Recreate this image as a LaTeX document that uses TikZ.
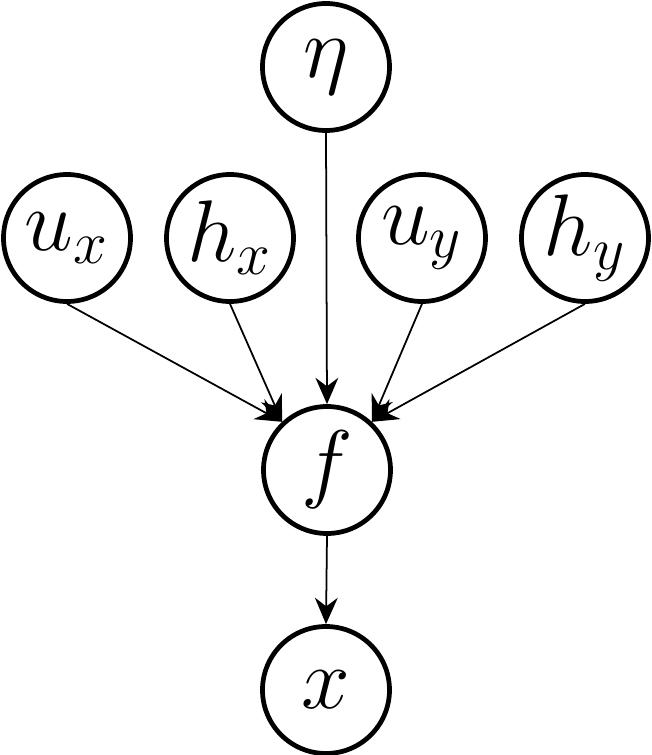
\documentclass[tikz,border=0pt]{standalone}
\usetikzlibrary{arrows.meta}
\tikzset{
  var/.style={circle, draw, line width=1.35pt, minimum size=1.27cm, inner sep=0pt, font=\fontsize{24}{28}\selectfont},
  link/.style={line width=0.5pt, -{Stealth[length=7.5pt, width=6.5pt]}}
}
\begin{document}
\begin{tikzpicture}
  \useasboundingbox (0,0) rectangle (6.52,7.55);
  \node[var] (eta) at (3.26,6.88) {$\eta$};
  \node[var] (ux) at (0.67,5.17) {$u_x$};
  \node[var] (hx) at (2.30,5.17) {$h_x$};
  \node[var] (uy) at (4.22,5.17) {$u_y$};
  \node[var] (hy) at (5.85,5.17) {$h_y$};
  \node[var] (f) at (3.27,2.85) {$f$};
  \node[var] (x) at (3.26,0.65) {$x$};

  \draw[link] (ux.south) -- (f.133);
  \draw[link] (hx.south) -- (f.133);
  \draw[link] (eta.south) -- (f.north);
  \draw[link] (uy.south) -- (f.47);
  \draw[link] (hy.south) -- (f.47);
  \draw[link] (f.south) -- (x.north);
\end{tikzpicture}
\end{document}
